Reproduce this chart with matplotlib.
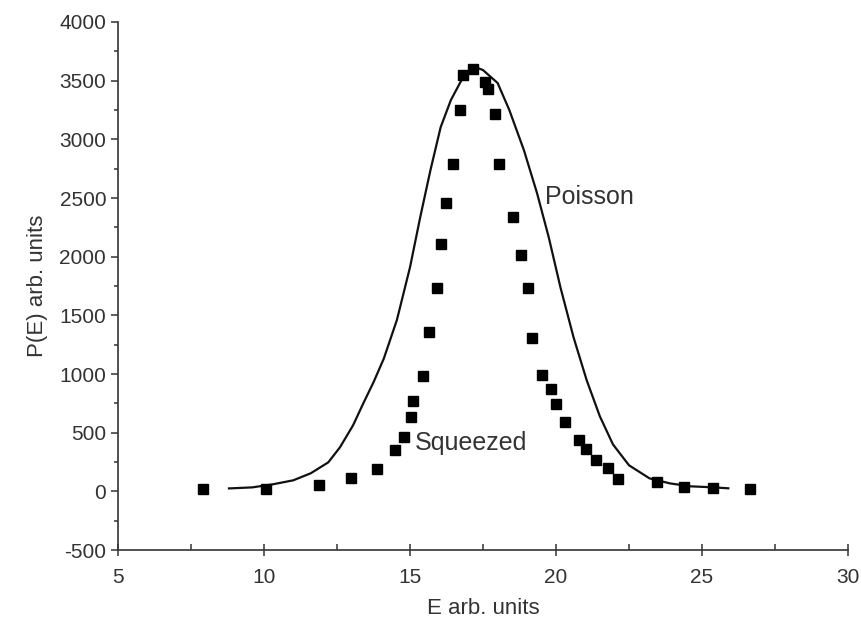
import matplotlib
matplotlib.use("Agg")
import matplotlib.pyplot as plt
from matplotlib.ticker import MultipleLocator

plt.rcParams['font.family'] = ['Liberation Sans', 'DejaVu Sans']
plt.rcParams['axes.unicode_minus'] = False

# Poisson curve
poisson_e = [8.8, 9.6, 10.3, 11.0, 11.6, 12.2, 12.6, 13.05, 13.4, 13.75, 14.1, 14.55, 15.0,
             15.35, 15.7, 16.05, 16.4, 16.8, 17.2, 17.5, 18.0, 18.4, 18.9, 19.35,
             19.75, 20.15, 20.6, 21.05, 21.5, 21.95, 22.5, 23.2, 23.9, 24.6, 25.4, 25.9]
poisson_p = [25, 34, 60, 94, 154, 247, 375, 563, 750, 930, 1130, 1460, 1910,
             2337, 2738, 3104, 3335, 3522, 3620, 3590, 3480, 3250, 2908, 2541,
             2166, 1740, 1313, 947, 640, 400, 222, 111, 68, 43, 34, 26]

# Squeezed points
squeezed_e = [7.91, 10.07, 11.9, 12.97, 13.87, 14.47, 14.79, 15.03, 15.10, 15.45,
              15.65, 15.92, 16.06, 16.23, 16.47, 16.71, 16.82, 17.16, 17.57, 17.67,
              17.91, 18.05, 18.53, 18.80, 19.04, 19.18, 19.52, 19.83, 20.0, 20.31,
              20.79, 21.03, 21.37, 21.77, 22.12, 23.46, 24.38, 25.38, 26.64]
squeezed_p = [20, 20, 50, 110, 192, 350, 465, 631, 768, 981,
              1356, 1731, 2107, 2460, 2789, 3250, 3545, 3600, 3490, 3430,
              3215, 2789, 2340, 2013, 1731, 1305, 989, 870, 742, 588,
              435, 358, 264, 196, 102, 77, 34, 25, 17]

fig = plt.figure(figsize=(8.62, 6.32), dpi=100)
ax = fig.add_axes([0.1369, 0.1297, 0.8469, 0.8355])

ax.plot(poisson_e, poisson_p, color="#111111", linewidth=1.6)
ax.plot(squeezed_e, squeezed_p, linestyle="none", marker="s", markersize=6.5,
        color="black")

ax.text(19.62, 2506, "Poisson", fontsize=18, color="#333333", va="center")
ax.text(15.17, 410, "Squeezed", fontsize=18, color="#333333", va="center")

ax.set_xlim(5, 30)
ax.set_ylim(-500, 4000)
ax.xaxis.set_major_locator(MultipleLocator(5))
ax.xaxis.set_minor_locator(MultipleLocator(2.5))
ax.yaxis.set_major_locator(MultipleLocator(500))
ax.yaxis.set_minor_locator(MultipleLocator(250))

for s in ["top", "right"]:
    ax.spines[s].set_visible(False)
for s in ["left", "bottom"]:
    ax.spines[s].set_linewidth(1.2)
    ax.spines[s].set_color("#333333")

ax.tick_params(axis="x", which="major", direction="inout", length=8, width=1.1,
               labelsize=15, colors="#333333", pad=9)
ax.tick_params(axis="x", which="minor", direction="in", length=4, width=1.1,
               colors="#333333")
ax.tick_params(axis="y", which="major", direction="out", length=5, width=1.1,
               labelsize=15, colors="#333333")
ax.tick_params(axis="y", which="minor", direction="out", length=3, width=1.1,
               colors="#333333")

ax.set_xlabel("E arb. units", fontsize=16, color="#333333", labelpad=8)
ax.set_ylabel("P(E) arb. units", fontsize=16, color="#333333", labelpad=8)

fig.savefig("out.png", dpi=100)
